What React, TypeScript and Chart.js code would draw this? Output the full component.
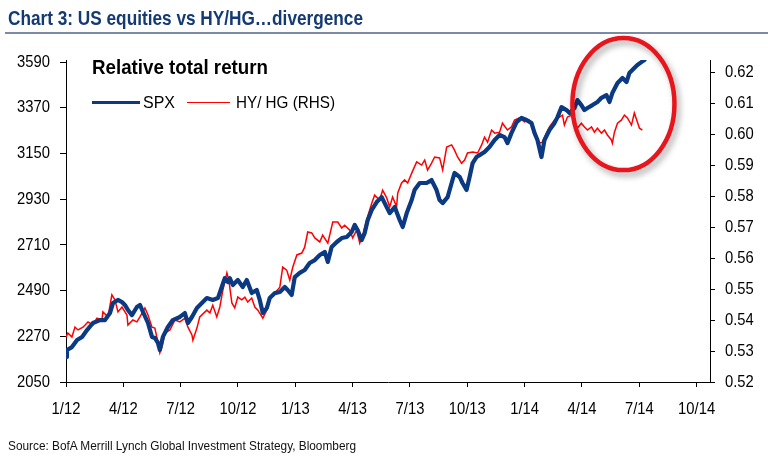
import React, { useEffect, useLayoutEffect, useRef } from 'react';
import { Chart, registerables } from 'chart.js';

Chart.register(...registerables);

// ---------- data ----------
const xTickMonths = [0, 3, 6, 9, 12, 15, 18, 21, 24, 27, 30, 33];
const xTickLabels = ['1/12', '4/12', '7/12', '10/12', '1/13', '4/13', '7/13', '10/13', '1/14', '4/14', '7/14', '10/14'];
const leftTicks = [2050, 2270, 2490, 2710, 2930, 3150, 3370, 3590];
const rightTicks = [0.52, 0.53, 0.54, 0.55, 0.56, 0.57, 0.58, 0.59, 0.6, 0.61, 0.62];

// months since Jan 2012
const spxMonths = [
  0, 0.05, 0.31, 0.58, 0.84, 1.10, 1.41, 1.78, 2.04, 2.30,
  2.46, 2.72, 2.93, 3.08, 3.24, 3.45, 3.71, 3.87, 4.03, 4.29,
  4.50, 4.65, 4.81, 4.91, 5.07, 5.33, 5.59, 5.96, 6.22, 6.38,
  6.59, 6.85, 7.11, 7.37, 7.68, 7.95, 8.15, 8.31, 8.47, 8.57,
  8.73, 8.99, 9.25, 9.46, 9.72, 9.98, 10.14, 10.30, 10.51, 10.66,
  10.93, 11.19, 11.45, 11.60, 11.81, 11.97, 12.23, 12.49, 12.75, 13.02,
  13.28, 13.54, 13.70, 13.90, 14.17, 14.43, 14.69, 14.95, 15.11, 15.26,
  15.47, 15.63, 15.79, 16.00, 16.26, 16.52, 16.78, 16.94, 17.20, 17.46,
  17.62, 17.83, 18.09, 18.24, 18.51, 18.87, 19.13, 19.39, 19.55, 19.71,
  19.97, 20.18, 20.33, 20.60, 20.75, 20.96, 21.12, 21.28, 21.48, 21.64,
  21.90, 22.16, 22.43, 22.69, 22.95, 23.10, 23.31, 23.58, 23.84, 24.10,
  24.36, 24.52, 24.67, 24.88, 25.04, 25.30, 25.56, 25.72, 25.93, 26.19,
  26.35, 26.61, 26.76, 26.97, 27.13, 27.29, 27.55, 27.81, 28.02, 28.28,
  28.44, 28.59, 28.86, 29.12, 29.33, 29.48, 29.74, 29.90, 30.11, 30.27,
];
const spxValues = [
  2170, 2204, 2218, 2252, 2267, 2300, 2334, 2348, 2348, 2382,
  2430, 2445, 2435, 2421, 2397, 2372, 2411, 2421, 2387, 2334,
  2267, 2262, 2238, 2204, 2267, 2315, 2348, 2363, 2382, 2334,
  2363, 2406, 2430, 2454, 2445, 2454, 2507, 2550, 2531, 2550,
  2517, 2541, 2507, 2541, 2478, 2493, 2445, 2382, 2406, 2454,
  2478, 2483, 2507, 2493, 2469, 2555, 2575, 2589, 2623, 2637,
  2661, 2676, 2628, 2700, 2724, 2743, 2748, 2772, 2806, 2782,
  2733, 2767, 2830, 2878, 2916, 2940, 2892, 2863, 2892, 2830,
  2796, 2863, 2926, 2974, 3008, 3008, 3022, 2974, 2926, 2911,
  2940, 3008, 3056, 3037, 3008, 2974, 3037, 3104, 3133, 3142,
  3157, 3181, 3215, 3239, 3229, 3200, 3248, 3301, 3321, 3311,
  3296, 3248, 3215, 3133, 3215, 3263, 3296, 3325, 3373, 3359,
  3345, 3369, 3407, 3383, 3359, 3369, 3383, 3398, 3418, 3431,
  3398, 3441, 3489, 3513, 3494, 3537, 3561, 3576, 3590, 3600,
];

const hyMonths = [
  0, 0.10, 0.31, 0.47, 0.63, 0.89, 1.15, 1.41, 1.62, 1.88,
  1.93, 2.20, 2.40, 2.56, 2.72, 2.93, 3.19, 3.24, 3.50, 3.71,
  3.87, 4.13, 4.29, 4.50, 4.65, 4.81, 4.91, 5.02, 5.18, 5.44,
  5.70, 5.96, 6.22, 6.38, 6.59, 6.64, 6.85, 7.00, 7.37, 7.53,
  7.68, 7.89, 8.05, 8.21, 8.42, 8.52, 8.68, 8.83, 8.99, 9.20,
  9.36, 9.51, 9.72, 9.88, 10.04, 10.30, 10.51, 10.66, 10.93, 11.19,
  11.34, 11.55, 11.71, 11.87, 12.08, 12.34, 12.49, 12.65, 12.86, 13.02,
  13.28, 13.43, 13.70, 13.96, 14.22, 14.43, 14.58, 14.85, 15.00, 15.21,
  15.37, 15.53, 15.73, 16.00, 16.15, 16.41, 16.57, 16.78, 16.94, 17.09,
  17.30, 17.36, 17.56, 17.72, 17.88, 18.09, 18.35, 18.61, 18.77, 18.92,
  19.13, 19.29, 19.55, 19.71, 19.92, 20.18, 20.33, 20.49, 20.70, 20.86,
  21.01, 21.28, 21.54, 21.75, 21.90, 22.06, 22.27, 22.43, 22.69, 22.84,
  23.10, 23.31, 23.47, 23.73, 23.99, 24.25, 24.41, 24.62, 24.78, 24.93,
  25.14, 25.30, 25.56, 25.82, 25.98, 26.08, 26.24, 26.45, 26.61, 26.76,
  26.97, 27.13, 27.29, 27.50, 27.65, 27.81, 28.02, 28.18, 28.33, 28.54,
  28.59, 28.70, 28.86, 29.06, 29.22, 29.38, 29.59, 29.74, 29.90, 30.01,
  30.16,
];
const hyValues = [
  0.5345, 0.5358, 0.5345, 0.5377, 0.5368, 0.5377, 0.5394, 0.5384, 0.5406, 0.5400,
  0.5426, 0.5410, 0.5481, 0.5465, 0.5426, 0.5442, 0.5416, 0.5384, 0.5400, 0.5394,
  0.5410, 0.5439, 0.5416, 0.5377, 0.5374, 0.5329, 0.5294, 0.5313, 0.5358, 0.5368,
  0.5400, 0.5394, 0.5406, 0.5377, 0.5352, 0.5335, 0.5374, 0.5410, 0.5432, 0.5423,
  0.5448, 0.5410, 0.5442, 0.5497, 0.5552, 0.5529, 0.5455, 0.5439, 0.5474, 0.5465,
  0.5474, 0.5458, 0.5471, 0.5442, 0.5432, 0.5406, 0.5432, 0.5474, 0.5487, 0.5506,
  0.5571, 0.5561, 0.5529, 0.5571, 0.5610, 0.5616, 0.5635, 0.5684, 0.5681, 0.5665,
  0.5652, 0.5674, 0.5648, 0.5716, 0.5716, 0.5697, 0.5706, 0.5690, 0.5665, 0.5690,
  0.5648, 0.5674, 0.5723, 0.5777, 0.5803, 0.5787, 0.5819, 0.5794, 0.5765, 0.5797,
  0.5765, 0.5810, 0.5842, 0.5852, 0.5842, 0.5874, 0.5910, 0.5900, 0.5916, 0.5884,
  0.5906, 0.5926, 0.5923, 0.5884, 0.5958, 0.5965, 0.5948, 0.5926, 0.5906, 0.5916,
  0.5939, 0.5942, 0.5939, 0.5965, 0.5990, 0.5974, 0.6013, 0.6003, 0.6006, 0.6035,
  0.6013, 0.6023, 0.6045, 0.6052, 0.6039, 0.6045, 0.6023, 0.5990, 0.5971, 0.5974,
  0.6003, 0.6023, 0.6045, 0.6055, 0.6061, 0.6029, 0.6055, 0.6061, 0.6039, 0.6019,
  0.6035, 0.6023, 0.6013, 0.6023, 0.6006, 0.6019, 0.6003, 0.6013, 0.5997, 0.5981,
  0.5971, 0.6006, 0.6035, 0.6045, 0.6061, 0.6052, 0.6029, 0.6068, 0.6039, 0.6019,
  0.6013,
];

// highlight ellipse (in data units)
const circleMonth = 29.17;
const circleValue = 3388;
const circleHalfMonths = 2.67;
const circleHalfValue = 318;

const X_MAX = 33.7;
const LEFT_MAX = 3600;
const RIGHT_MAX = 0.6239;

const NARROW = '"Liberation Sans Narrow", "Arial Narrow", "Liberation Sans", Arial, sans-serif';
const TICK_FONT = '17px "Liberation Sans", Arial, sans-serif';
const TICK_SQUEEZE = 0.87;

const ellipsePlugin = {
  id: 'divergenceCircle',
  afterDatasetsDraw(chart: any) {
    const { ctx, scales } = chart;
    const xs = scales.x;
    const ys = scales.yL;
    const cx = xs.getPixelForValue(circleMonth);
    const cy = ys.getPixelForValue(circleValue);
    const rx = Math.abs(xs.getPixelForValue(circleMonth + circleHalfMonths) - cx);
    const ry = Math.abs(ys.getPixelForValue(circleValue + circleHalfValue) - cy);
    ctx.save();
    ctx.shadowColor = 'rgba(0,0,0,0.35)';
    ctx.shadowBlur = 6;
    ctx.shadowOffsetX = 3;
    ctx.shadowOffsetY = 4;
    ctx.strokeStyle = '#e8151c';
    ctx.lineWidth = 4.5;
    ctx.beginPath();
    ctx.ellipse(cx, cy, rx, ry, 0, 0, Math.PI * 2);
    ctx.stroke();
    ctx.restore();
  },
};

// draws tick labels in a horizontally condensed face (like Arial Narrow)
const narrowTicksPlugin = {
  id: 'narrowTicks',
  afterDraw(chart: any) {
    const { ctx, scales, chartArea } = chart;
    const draw = (text: string, x: number, y: number, align: CanvasTextAlign) => {
      ctx.save();
      ctx.translate(x, y);
      ctx.scale(TICK_SQUEEZE, 1);
      ctx.textAlign = align;
      ctx.textBaseline = 'middle';
      ctx.fillText(text, 0, 0);
      ctx.restore();
    };
    ctx.save();
    ctx.font = TICK_FONT;
    ctx.fillStyle = '#000';
    xTickMonths.forEach((m, i) => {
      draw(xTickLabels[i], scales.x.getPixelForValue(m), chartArea.bottom + 27, 'center');
    });
    leftTicks.forEach((v) => {
      draw(String(v), chartArea.left - 16, scales.yL.getPixelForValue(v), 'right');
    });
    rightTicks.forEach((v) => {
      draw(v.toFixed(2), chartArea.right + 15, scales.yR.getPixelForValue(v), 'left');
    });
    ctx.restore();
  },
};

function FitText(props: {
  text: string; left: number; top: number; width: number; size: number;
  weight?: number | string; color?: string;
}) {
  const ref = useRef<HTMLSpanElement>(null);
  useLayoutEffect(() => {
    const el = ref.current;
    if (!el) return;
    const fit = () => {
      el.style.transform = 'none';
      const w = el.getBoundingClientRect().width;
      if (w > 0) el.style.transform = `scaleX(${props.width / w})`;
    };
    fit();
    if ((document as any).fonts && (document as any).fonts.ready) {
      (document as any).fonts.ready.then(fit);
    }
  }, [props.text, props.width]);
  return (
    <span
      ref={ref}
      style={{
        position: 'absolute',
        left: props.left,
        top: props.top,
        fontSize: props.size,
        lineHeight: 1,
        fontWeight: props.weight ?? 400,
        color: props.color ?? '#000',
        fontFamily: NARROW,
        whiteSpace: 'nowrap',
        transformOrigin: '0 0',
        display: 'inline-block',
      }}
    >
      {props.text}
    </span>
  );
}

export default function App() {
  const canvasRef = useRef<HTMLCanvasElement>(null);

  useEffect(() => {
    if (!canvasRef.current) return;
    const chart = new Chart(canvasRef.current, {
      type: 'line',
      data: {
        datasets: [
          {
            label: 'SPX',
            data: spxMonths.map((m, i) => ({ x: m, y: spxValues[i] })),
            borderColor: '#0b3a82',
            borderWidth: 4.2,
            pointRadius: 0,
            tension: 0,
            borderJoinStyle: 'round',
            borderCapStyle: 'round',
            yAxisID: 'yL',
          },
          {
            label: 'HY/ HG (RHS)',
            data: hyMonths.map((m, i) => ({ x: m, y: hyValues[i] })),
            borderColor: '#ff0000',
            borderWidth: 1.5,
            pointRadius: 0,
            tension: 0,
            yAxisID: 'yR',
          },
        ],
      },
      options: {
        animation: false,
        responsive: false,
        devicePixelRatio: 1,
        layout: { padding: { top: 60, left: 0, right: 0, bottom: 0 } },
        plugins: { legend: { display: false }, tooltip: { enabled: false }, title: { display: false } },
        scales: {
          x: {
            type: 'linear',
            min: 0,
            max: X_MAX,
            afterBuildTicks: (s: any) => { s.ticks = xTickMonths.map((v) => ({ value: v })); },
            afterFit: (s: any) => { s.height = 83; },
            ticks: { display: false, autoSkip: false },
            grid: { drawOnChartArea: false, drawTicks: true, tickLength: 5, color: '#000' },
            border: { color: '#000', width: 1 },
          },
          yL: {
            position: 'left',
            min: 2050,
            max: LEFT_MAX,
            afterBuildTicks: (s: any) => { s.ticks = leftTicks.map((v) => ({ value: v })); },
            afterFit: (s: any) => { s.width = 66; },
            ticks: { display: false, autoSkip: false },
            grid: { drawOnChartArea: false, drawTicks: true, tickLength: 6, color: '#000' },
            border: { color: '#000', width: 1 },
          },
          yR: {
            position: 'right',
            min: 0.52,
            max: RIGHT_MAX,
            afterBuildTicks: (s: any) => { s.ticks = rightTicks.map((v) => ({ value: v })); },
            afterFit: (s: any) => { s.width = 58; },
            ticks: { display: false, autoSkip: false },
            grid: { drawOnChartArea: false, drawTicks: true, tickLength: 5, color: '#000' },
            border: { color: '#000', width: 1 },
          },
        },
      },
      plugins: [ellipsePlugin, narrowTicksPlugin],
    } as any);
    return () => chart.destroy();
  }, []);

  return (
    <div style={{ position: 'absolute', left: 0, top: 0, width: 768, height: 465, background: '#fff', overflow: 'hidden' }}>
      <canvas ref={canvasRef} width={768} height={465} style={{ position: 'absolute', left: 0, top: 0, width: 768, height: 465 }} />
      <FitText text="Chart 3: US equities vs HY/HG…divergence" left={8} top={7} width={355} size={21} weight={700} color="#143a73" />
      <div style={{ position: 'absolute', left: 5, top: 32, width: 763, height: 2, background: '#7d8aa6' }} />
      <FitText text="Relative total return" left={92} top={55.5} width={176} size={21} weight={700} color="#000" />
      <div style={{ position: 'absolute', left: 92, top: 100.5, width: 48, height: 3.5, background: '#0b3a82' }} />
      <FitText text="SPX" left={143} top={94} width={32} size={17} color="#000" />
      <div style={{ position: 'absolute', left: 187, top: 101.5, width: 43, height: 1.5, background: '#ff0000' }} />
      <FitText text="HY/ HG (RHS)" left={236} top={94} width={99} size={17} color="#000" />
      <FitText text="Source: BofA Merrill Lynch Global Investment Strategy, Bloomberg" left={8} top={440} width={348} size={12} color="#111" />
    </div>
  );
}
